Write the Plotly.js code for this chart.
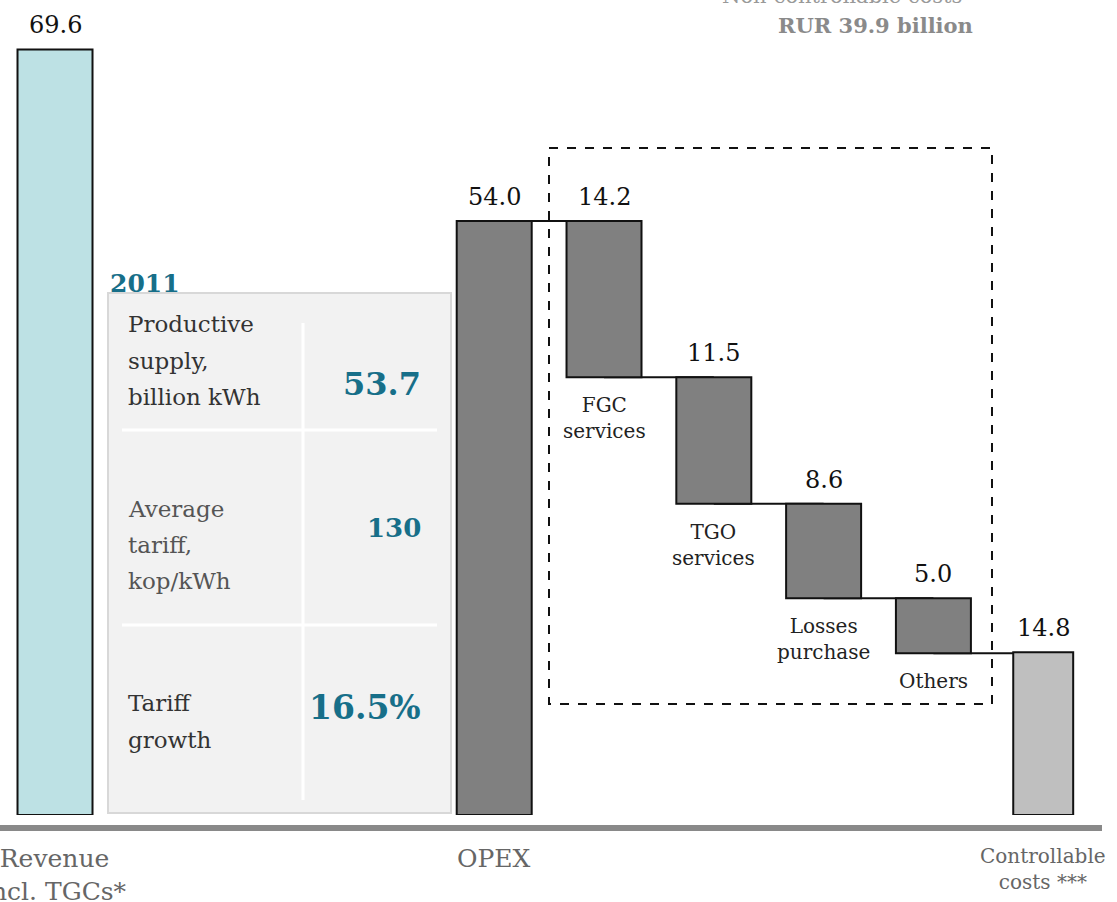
<!DOCTYPE html>
<html>
<head>
<meta charset="utf-8">
<script src="https://cdn.plot.ly/plotly-3.0.1.min.js"></script>
<style>html,body{margin:0;padding:0;background:#fff;}#chart{width:1117px;height:902px;}</style>
</head>
<body>
<div id="chart"></div>
<script>
// ---- data ----
const categories = ["Revenue incl. TGCs*", "gap1", "gap2", "gap3", "OPEX", "FGC services", "TGO services", "Losses purchase", "Others", "Controllable costs ***"];
const revenueName = "Revenue incl. TGCs*";
const revenueValue = 69.6;
const opexName = "OPEX";
const opexValue = 54.0;
const componentNames = ["FGC services", "TGO services", "Losses purchase", "Others"];
const componentLabels = ["FGC<br>services", "TGO<br>services", "Losses<br>purchase", "Others"];
const componentValues = [14.2, 11.5, 8.6, 5.0];
const controllableName = "Controllable costs ***";
const controllableValue = 14.8;
const axisLabels = ["Revenue<br>incl. TGCs*", "OPEX", "Controllable<br>costs ***"];
const nonControllableTitle = "Non-controllable costs";
const nonControllableValue = "RUR 39.9 billion";
const tableYear = "2011";
const tableRowLabels = [["Productive", "supply,", "billion kWh"], ["Average", "tariff,", "kop/kWh"], ["Tariff", "growth"]];
const tableRowValues = ["53.7", "130", "16.5%"];

// ---- styles ----
const FONT = '"DejaVu Serif", Georgia, serif';
const TEAL = '#176f89';
const W = 1117, PH = 815;
const px = v => v / W;
const py = v => (PH - v) / PH;
const mainW = 0.683, ctrlW = 0.546;

// ---- build bars ----
const bx = [], by = [], bb = [], bc = [], bw = [];
function addBar(name, h, b, col, w) { bx.push(name); by.push(h); bb.push(b); bc.push(col); bw.push(w); }
addBar(revenueName, revenueValue, 0, '#bde1e4', mainW);
addBar(opexName, opexValue, 0, '#808080', mainW);
let level = opexValue;
const levels = [opexValue];
componentValues.forEach((v, i) => { level -= v; addBar(componentNames[i], v, level, '#808080', mainW); levels.push(level); });
addBar(controllableName, controllableValue, 0, '#bfbfbf', ctrlW);

const trace = {
  type: 'bar', x: bx, y: by, base: bb, width: bw,
  marker: { color: bc, line: { color: '#111', width: 2 } },
  hoverinfo: 'skip', showlegend: false
};

// ---- shapes ----
const shapes = [];
const chain = [opexName].concat(componentNames).concat([controllableName]);
for (let i = 0; i < chain.length - 1; i++) {
  const i0 = categories.indexOf(chain[i]), i1 = categories.indexOf(chain[i + 1]);
  shapes.push({ type: 'line', layer: 'below', xref: 'x', yref: 'y', x0: i0, x1: i1, y0: levels[i], y1: levels[i], line: { color: '#111', width: 2 } });
}
shapes.push({ type: 'line', xref: 'paper', yref: 'paper', x0: 0, x1: px(1102), y0: py(828), y1: py(828), line: { color: '#898989', width: 6 } });
shapes.push({ type: 'rect', xref: 'paper', yref: 'paper', x0: px(549), x1: px(992), y0: py(148), y1: py(704), line: { color: '#111', width: 2, dash: 'dash' }, fillcolor: 'rgba(0,0,0,0)' });
shapes.push({ type: 'rect', xref: 'paper', yref: 'paper', x0: px(108), x1: px(451), y0: py(293), y1: py(813), fillcolor: '#f2f2f2', line: { color: '#d8d8d8', width: 2 } });
shapes.push({ type: 'line', xref: 'paper', yref: 'paper', x0: px(303), x1: px(303), y0: py(323), y1: py(800), line: { color: '#fff', width: 3 } });
[430, 625].forEach(yy => shapes.push({ type: 'line', xref: 'paper', yref: 'paper', x0: px(122), x1: px(437), y0: py(yy), y1: py(yy), line: { color: '#fff', width: 3 } }));

// ---- annotations ----
const ann = [];
function pa(x, y, text, size, color, xanchor) {
  ann.push({ x: px(x), y: py(y), xref: 'paper', yref: 'paper', xanchor: xanchor || 'center', yanchor: 'middle', text: text, showarrow: false, font: { family: FONT, size: size, color: color } });
}
bx.forEach((name, i) => {
  ann.push({ x: name, y: bb[i] + by[i], xref: 'x', yref: 'y', xanchor: 'center', text: by[i].toFixed(1), showarrow: false, yanchor: 'bottom', yshift: 8, font: { family: FONT, size: 24, color: '#111' } });
});
componentNames.forEach((name, i) => {
  const idx = bx.indexOf(name);
  ann.push({ x: name, y: bb[idx], xref: 'x', yref: 'y', xanchor: 'center', text: componentLabels[i], showarrow: false, yanchor: 'top', yshift: -14, font: { family: FONT, size: 20, color: '#222' } });
});
[[revenueName, axisLabels[0], 25], [opexName, axisLabels[1], 25], [controllableName, axisLabels[2], 20]].forEach(a => {
  ann.push({ x: a[0], y: py(842), xref: 'x', yref: 'paper', xanchor: 'center', text: a[1], showarrow: false, yanchor: 'top', font: { family: FONT, size: a[2], color: '#666' } });
});
pa(842, -4, nonControllableTitle, 21, '#999');
pa(875, 25, '<b>' + nonControllableValue + '</b>', 21, '#8a8a8a');
pa(108, 283, '<b>' + tableYear + '</b>', 25, TEAL, 'left');
const rowLineY = [[324, 361, 397], [509, 545, 581], [703, 740]];
const rowColors = ['#333', '#555', '#333'];
tableRowLabels.forEach((lines, r) => {
  lines.forEach((t, k) => pa(126, rowLineY[r][k], t, 23, rowColors[r], 'left'));
});
const valY = [384, 528, 707], valSize = [32, 26, 33];
tableRowValues.forEach((t, r) => pa(423, valY[r], '<b>' + t + '</b>', valSize[r], TEAL, 'right'));

const layout = {
  width: W, height: 902,
  margin: { l: 0, r: 0, t: 0, b: 87, pad: 0 },
  paper_bgcolor: '#fff', plot_bgcolor: '#fff',
  showlegend: false,
  xaxis: { type: 'category', categoryorder: 'array', categoryarray: categories, range: [-0.501, 9.672], showticklabels: false, showgrid: false, zeroline: false, showline: false, ticks: '', fixedrange: true },
  yaxis: { range: [0, 74.1], showticklabels: false, showgrid: false, zeroline: false, showline: false, ticks: '', fixedrange: true },
  shapes: shapes,
  annotations: ann,
  bargap: 0
};
Plotly.newPlot('chart', [trace], layout, { displayModeBar: false, staticPlot: true });
</script>
</body>
</html>
